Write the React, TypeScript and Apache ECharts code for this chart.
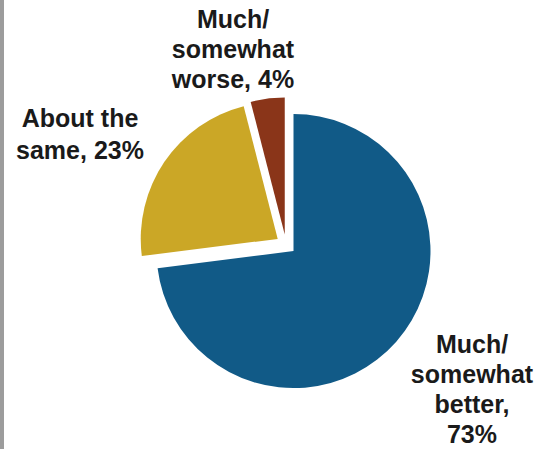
import React, { useEffect, useRef } from "react";
import * as echarts from "echarts";

const categories = [
  "Much/\nsomewhat\nbetter,",
  "About the\nsame,",
  "Much/\nsomewhat\nworse,",
];
const values = [73, 23, 4];
const separators = ["\n", " ", " "];
const colors = ["#115a87", "#cba726", "#8a3519"];
const exploded = [true, true, true];

const labelPos = [
  { x: 472, y: 389, lh: 30 },
  { x: 80, y: 134, lh: 32 },
  { x: 233, y: 49, lh: 30 },
];

export default function App() {
  const ref = useRef<HTMLDivElement>(null);
  useEffect(() => {
    if (!ref.current) return;
    const chart = echarts.init(ref.current, null, { renderer: "svg" });
    const labelTexts = values.map((v, i) => ({
      type: "text",
      silent: true,
      style: {
        text: categories[i] + separators[i] + v + "%",
        x: labelPos[i].x,
        y: labelPos[i].y,
        align: "center",
        verticalAlign: "middle",
        fontFamily: "Liberation Sans, Arial, sans-serif",
        fontWeight: "bold",
        fontSize: 25,
        lineHeight: labelPos[i].lh,
        fill: "#1a1a1a",
      },
    }));
    chart.setOption({
      animation: false,
      backgroundColor: "#ffffff",
      graphic: [
        {
          type: "rect",
          shape: { x: 0, y: 0, width: 4, height: 449 },
          style: { fill: "#9c9c9c" },
          silent: true,
        },
        ...labelTexts,
      ],
      series: [
        {
          type: "pie",
          center: [286, 244.5],
          radius: 137,
          startAngle: 90,
          clockwise: true,
          selectedMode: "multiple",
          selectedOffset: 10,
          emphasis: { disabled: true },
          label: { show: false },
          labelLine: { show: false },
          data: values.map((v, i) => ({
            value: v,
            name: categories[i].replace(/\n/g, " "),
            selected: exploded[i],
            itemStyle: { color: colors[i], borderWidth: 0 },
            select: { itemStyle: { color: colors[i], borderWidth: 0 } },
          })),
        },
      ],
    });
    return () => chart.dispose();
  }, []);
  return (
    <div
      ref={ref}
      style={{ position: "fixed", left: 0, top: 0, width: 542, height: 449 }}
    />
  );
}
